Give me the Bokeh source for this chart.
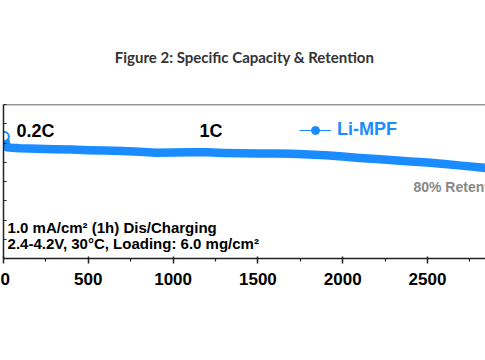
from bokeh.plotting import figure
from bokeh.models import Label, Legend, LegendItem, Span, FixedTicker, Range1d
from bokeh.embed import file_html
from bokeh.resources import INLINE

# ---- data ----
cycles = [5, 20, 50, 100, 200, 300, 400, 500, 600, 700, 800, 900, 1000, 1100,
          1200, 1300, 1400, 1500, 1600, 1700, 1800, 1900, 2000, 2100, 2200,
          2300, 2400, 2500, 2600, 2700, 2800, 2842]
capacity = [158.4, 144.5, 143.8, 143.2, 142.6, 142.0, 141.4, 140.6, 140.1, 139.5,
            138.6, 137.2, 137.6, 138.0, 137.9, 137.1, 136.6, 136.5, 136.3, 135.9,
            135.0, 134.0, 132.5, 130.6, 129.1, 127.6, 126.1, 124.6, 122.6, 120.6,
            118.6, 117.6]
first_cycle = [5]
first_capacity = [158.4]

x_ticks = [0, 500, 1000, 1500, 2000, 2500]
x_minor_ticks = [250, 750, 1250, 1750, 2250, 2750]
y_ticks = [0, 25, 50, 75, 100, 125, 150, 175, 200]

BLUE = "#1a8cff"
FONT = "Liberation Sans"
AXIS = "#222222"

p = figure(width=485, height=360, output_backend="svg", toolbar_location=None,
           x_range=Range1d(0, 2842), y_range=Range1d(0, 200),
           min_border_left=3, min_border_right=0, min_border_top=104,
           min_border_bottom=102, outline_line_color=None,
           background_fill_color="white", border_fill_color="white")
p.grid.visible = False

p.title.text = "Figure 2: Specific Capacity & Retention"
p.title.align = "center"
p.title.text_font = "Lato"
p.title.text_font_size = "15px"
p.title.text_font_style = "bold"
p.title.text_color = "#333333"
p.title.standoff = 77

xa = p.xaxis[0]
xa.ticker = FixedTicker(ticks=x_ticks, minor_ticks=x_minor_ticks)
xa.major_label_text_font = FONT
xa.major_label_text_font_size = "17px"
xa.major_label_text_font_style = "bold"
xa.major_label_text_color = "black"
xa.major_label_standoff = 9
xa.axis_line_color = AXIS
xa.axis_line_width = 1.5
xa.major_tick_line_color = AXIS
xa.major_tick_line_width = 1.5
xa.minor_tick_line_color = AXIS
xa.minor_tick_line_width = 1.2
xa.major_tick_in = 2
xa.major_tick_out = 5
xa.minor_tick_in = 0
xa.minor_tick_out = 3

ya = p.yaxis[0]
ya.ticker = FixedTicker(ticks=y_ticks, minor_ticks=[])
ya.major_label_overrides = {t: "" for t in y_ticks}
ya.major_label_standoff = 0
ya.axis_line_color = AXIS
ya.axis_line_width = 1.5
ya.major_tick_line_color = AXIS
ya.major_tick_line_width = 1.2
ya.major_tick_in = 3
ya.major_tick_out = 0
ya.minor_tick_in = 0
ya.minor_tick_out = 0

p.add_layout(Span(location=200, dimension="width", line_color="#333333", line_width=1.5))

p.line(cycles, capacity, line_width=8.5, color=BLUE, line_cap="round", line_join="round")
p.scatter(first_cycle, first_capacity, marker="circle", size=9, fill_color="white",
          line_color=BLUE, line_width=2)

nan = float("nan")
leg_line = p.line([nan], [nan], color=BLUE, line_width=1.2)
leg_dot = p.scatter([nan], [nan], marker="circle", size=7, color=BLUE)
legend = Legend(items=[LegendItem(label="Li-MPF", renderers=[leg_line, leg_dot])],
                location=(296, 118), padding=0, margin=0, spacing=0,
                glyph_width=32, glyph_height=20, label_height=20, label_standoff=6,
                label_text_font=FONT, label_text_font_size="18px",
                label_text_font_style="bold", label_text_color=BLUE,
                border_line_color=None, background_fill_alpha=0)
p.add_layout(legend)

def lab(x, y, text, size, color="black", font=FONT, align="left"):
    p.add_layout(Label(x=x, y=y, text=text, text_font=font, text_font_size=size,
                       text_font_style="bold", text_color=color, text_align=align,
                       text_baseline="middle"))

lab(77, 166.2, "0.2C", "18px")
lab(1156, 166.2, "1C", "18px")
lab(2417, 93.5, "80% Retention", "14px", "#888888")
lab(24, 40.6, "1.0 mA/cm\u00b2 (1h) Dis/Charging", "15px")
lab(24, 19.1, "2.4-4.2V, 30\u00b0C, Loading: 6.0 mg/cm\u00b2", "15px")

open("out.html", "w").write(file_html(p, INLINE))
